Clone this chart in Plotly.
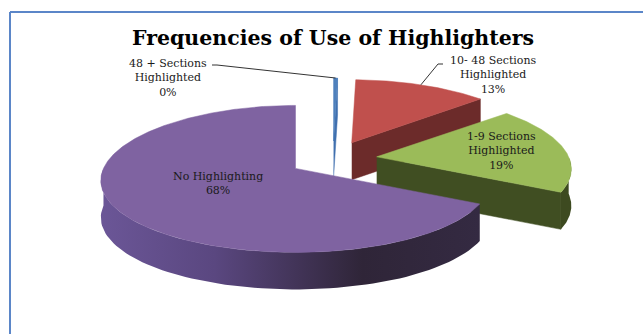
import numpy as np
import plotly.graph_objects as go

# ---------------- data ----------------
categories = ["48 + Sections Highlighted", "10- 48 Sections Highlighted",
              "1-9 Sections Highlighted", "No Highlighting"]
values = [0.4, 13.2, 18.9, 67.5]
title_text = "Frequencies of Use of Highlighters"

# ---------------- styles ----------------
top_colors = ["#4F81BD", "#C0504D", "#9BBB59", "#7F63A1"]
face_colors = ["#3F6FAE", "#6C2B2A", "#404E22", "#5A4780"]
side_scales = [
    [[0, "#3A6090"], [1, "#3A6090"]],
    [[0, "#6C2B2A"], [1, "#6C2B2A"]],
    [[0, "#3D4A20"], [1, "#3D4A20"]],
    [[0, "#6B5697"], [0.3, "#5A4780"], [0.69, "#2F2538"], [1, "#342A42"]],
]
# label placement (pixel centre) and leader-line start
label_pos = [(168, 78), (493, 75), (501, 151), (218, 183)]
leader_start = [(212, 65), (443, 64), None, None]

W, H = 643, 334
CX, CY = 333, 159
RX, RY = 192, 73.5
P, Q = 0.143, 0.17
EXP_X, EXP_Y = 44, 18
DEPTH = 37
FONT = "DejaVu Serif"


def proj(theta, off, dz=0.0):
    t = np.radians(theta)
    x = CX + off[0] + RX * np.sin(t) * (1 - Q * np.cos(t))
    y = CY + off[1] - RY * np.cos(t) * (1 - P * np.cos(t)) + dz
    return x, y


total = sum(values)
fracs = [v / total for v in values]
starts = np.concatenate([[0], np.cumsum(fracs)[:-1]]) * 360
ends = np.cumsum(fracs) * 360

fig = go.Figure()

slices = []
for i in range(len(values)):
    mid = (starts[i] + ends[i]) / 2
    off = (EXP_X * np.sin(np.radians(mid)), -EXP_Y * np.cos(np.radians(mid)))
    slices.append((i, starts[i], ends[i], mid, off))

# back to front by apex y
order = sorted(slices, key=lambda s: s[4][1])

for i, s, e, mid, off in order:
    apex = (CX + off[0], CY + off[1])
    # outer curved side (front half only)
    a0, a1 = max(s, 90), min(e, 270)
    if a1 > a0:
        ang = np.linspace(a0, a1, 80)
        xt, yt = proj(ang, off)
        xb, yb = proj(ang[::-1], off, DEPTH)
        fig.add_trace(go.Scatter(
            x=np.concatenate([xt, xb]), y=np.concatenate([yt, yb]),
            fill="toself", mode="lines", line=dict(width=0),
            fillgradient=dict(type="horizontal", colorscale=side_scales[i]),
            hoverinfo="skip", showlegend=False))
    # radial cut faces
    for th, visible in ((s, np.sin(np.radians(s)) < -1e-6),
                        (e, np.sin(np.radians(e)) > 1e-6)):
        if visible:
            ox, oy = proj(th, off)
            fig.add_trace(go.Scatter(
                x=[apex[0], ox, ox, apex[0]],
                y=[apex[1], oy, oy + DEPTH, apex[1] + DEPTH],
                fill="toself", mode="lines",
                line=dict(width=0.5, color=face_colors[i]),
                fillcolor=face_colors[i], hoverinfo="skip", showlegend=False))
    # top face
    ang = np.linspace(s, e, max(int((e - s) * 2), 4))
    xt, yt = proj(ang, off)
    fig.add_trace(go.Scatter(
        x=np.concatenate([[apex[0]], xt, [apex[0]]]),
        y=np.concatenate([[apex[1]], yt, [apex[1]]]),
        fill="toself", mode="lines",
        line=dict(width=0.5, color=top_colors[i]),
        fillcolor=top_colors[i], hoverinfo="skip", showlegend=False,
        name=categories[i]))

# labels
annotations = []
shapes = []
for i, (s, e) in enumerate(zip(starts, ends)):
    pct = round(values[i] / total * 100)
    txt = categories[i].replace(" Highlighted", "<br>Highlighted") + "<br>" + f"{pct}%"
    lx, ly = label_pos[i]
    annotations.append(dict(x=lx, y=ly, xref="x", yref="y", text=txt,
                            showarrow=False, align="center",
                            font=dict(family=FONT, size=11, color="#1A1A1A")))
    if leader_start[i] is not None:
        mid = (s + e) / 2
        off = (EXP_X * np.sin(np.radians(mid)), -EXP_Y * np.cos(np.radians(mid)))
        px, py = proj(mid, off)
        sx, sy = leader_start[i]
        elbow = sx + (5 if px > sx else -5)
        shapes.append(dict(type="path", xref="x", yref="y",
                           path=f"M {sx},{sy} L {elbow},{sy} L {px:.1f},{py:.1f}",
                           line=dict(color="#333333", width=1)))

annotations.append(dict(x=333, y=38, xref="x", yref="y", text=f"<b>{title_text}</b>",
                        showarrow=False,
                        font=dict(family=FONT, size=20.5, color="#000000")))

# frame
shapes.append(dict(type="line", xref="x", yref="y", x0=10, y0=12, x1=W + 5, y1=12,
                   line=dict(color="#5B86C8", width=2)))
shapes.append(dict(type="line", xref="x", yref="y", x0=10, y0=12, x1=10, y1=H + 5,
                   line=dict(color="#5B86C8", width=2)))

fig.update_layout(
    width=W, height=H, margin=dict(l=0, r=0, t=0, b=0),
    paper_bgcolor="white", plot_bgcolor="white",
    xaxis=dict(range=[0, W], visible=False, fixedrange=True),
    yaxis=dict(range=[H, 0], visible=False, fixedrange=True),
    annotations=annotations, shapes=shapes, showlegend=False,
)

fig.write_html("out.html")
